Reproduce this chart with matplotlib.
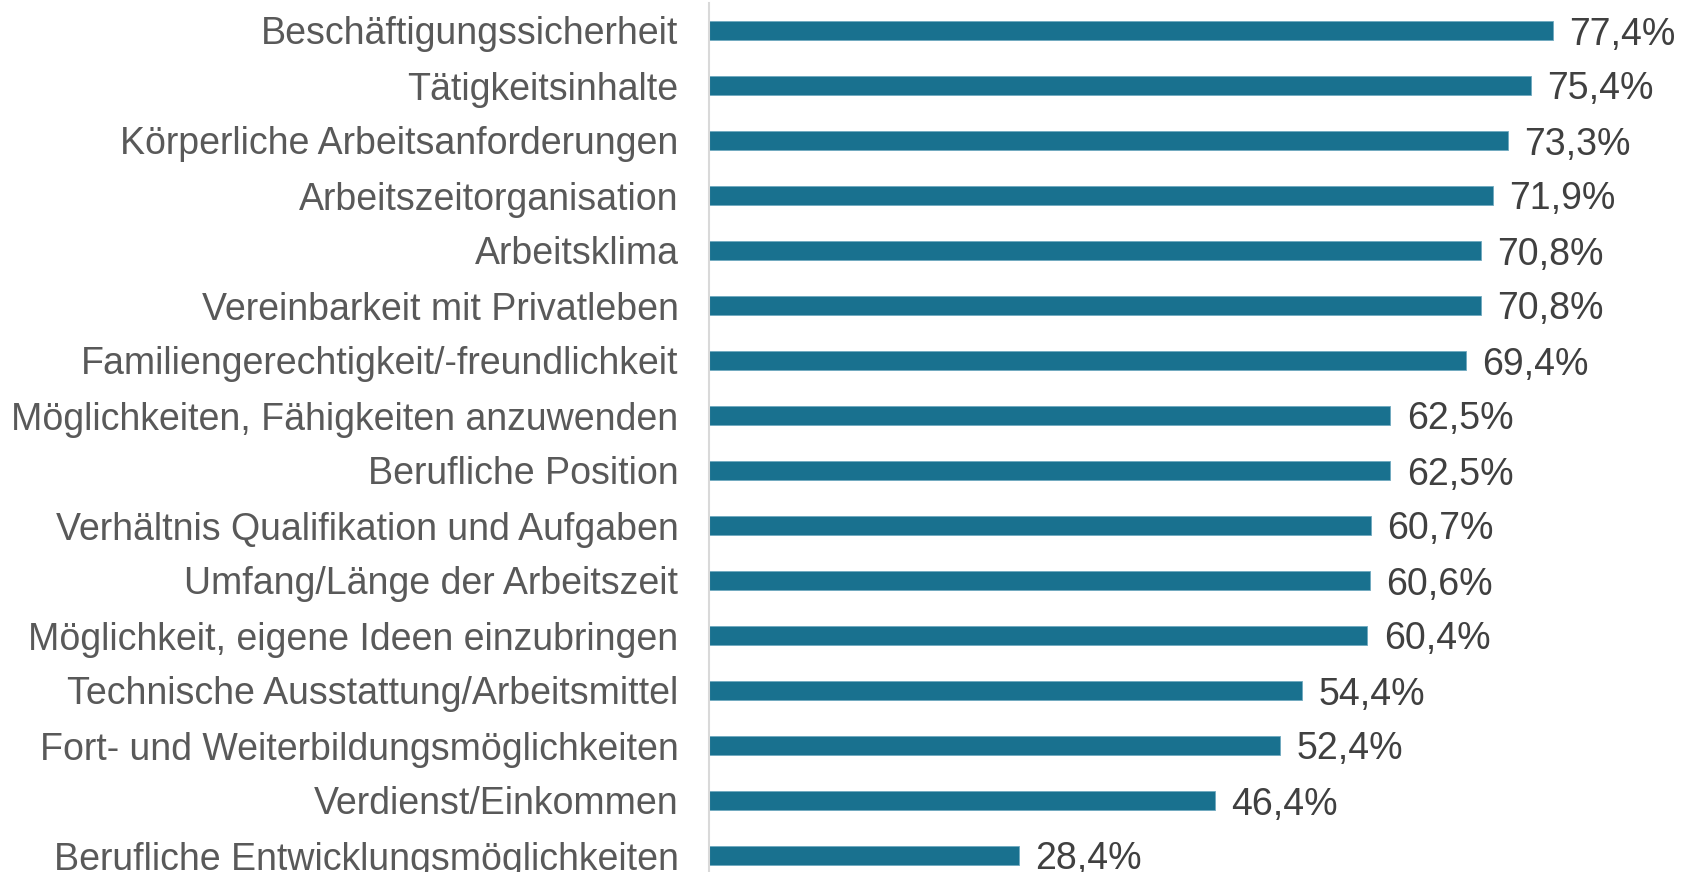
import matplotlib.pyplot as plt

plt.rcParams['font.family'] = ['Liberation Sans', 'DejaVu Sans']

# Data (top to bottom)
categories = [
    "Beschäftigungssicherheit",
    "Tätigkeitsinhalte",
    "Körperliche Arbeitsanforderungen",
    "Arbeitszeitorganisation",
    "Arbeitsklima",
    "Vereinbarkeit mit Privatleben",
    "Familiengerechtigkeit/-freundlichkeit",
    "Möglichkeiten, Fähigkeiten anzuwenden",
    "Berufliche Position",
    "Verhältnis Qualifikation und Aufgaben",
    "Umfang/Länge der Arbeitszeit",
    "Möglichkeit, eigene Ideen einzubringen",
    "Technische Ausstattung/Arbeitsmittel",
    "Fort- und Weiterbildungsmöglichkeiten",
    "Verdienst/Einkommen",
    "Berufliche Entwicklungsmöglichkeiten",
]
values = [77.4, 75.4, 73.3, 71.9, 70.8, 70.8, 69.4, 62.5, 62.5, 60.7, 60.6, 60.4,
          54.4, 52.4, 46.4, 28.4]

W, H = 1688, 872
fig = plt.figure(figsize=(W / 100, H / 100), dpi=100)
ax = fig.add_axes([709 / W, 0, 1 - 709 / W, 1 - 3 / H])

pos = list(range(len(categories)))
ax.barh(pos, values, height=0.35, color='#19718F', edgecolor='#6fa9c0', linewidth=0.6)

for p, v in zip(pos, values):
    ax.text(v + 1.5, p, f"{v:.1f}%".replace('.', ','), va='center_baseline', ha='left',
            fontsize=27, color='#404040')

ax.set_xlim(0, 89.8)
ax.set_ylim(15.3, -0.5)
ax.set_yticks(pos)
ax.set_yticklabels(categories, fontsize=27, color='#595959', va='center_baseline')
ax.tick_params(axis='y', length=0, pad=22)
ax.set_xticks([])
for s in ['top', 'right', 'bottom']:
    ax.spines[s].set_visible(False)
ax.spines['left'].set_color('#d9d9d9')
ax.spines['left'].set_linewidth(1.5)

fig.savefig('out.png', dpi=100)
